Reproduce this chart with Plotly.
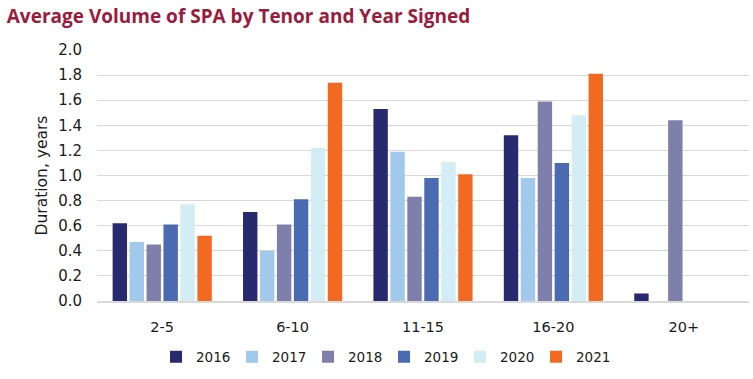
import plotly.graph_objects as go

categories = ["2-5", "6-10", "11-15", "16-20", "20+"]
years = ["2016", "2017", "2018", "2019", "2020", "2021"]
values = {
    "2016": [0.62, 0.71, 1.53, 1.32, 0.06],
    "2017": [0.47, 0.40, 1.19, 0.98, None],
    "2018": [0.45, 0.61, 0.83, 1.59, 1.44],
    "2019": [0.61, 0.81, 0.98, 1.10, None],
    "2020": [0.77, 1.22, 1.11, 1.48, None],
    "2021": [0.52, 1.74, 1.01, 1.81, None],
}
colors = ["#272A6F", "#A0C9EC", "#7E7FAB", "#4A6AB2", "#D2EEF4", "#F26A21"]
y_ticks = [0.0, 0.2, 0.4, 0.6, 0.8, 1.0, 1.2, 1.4, 1.6, 1.8, 2.0]

fig = go.Figure()
for yr, c in zip(years, colors):
    fig.add_trace(go.Bar(name=yr, x=categories, y=values[yr], marker_color=c,
                         marker_line_width=0))

font = "'DejaVu Sans', sans-serif"
fig.update_layout(
    width=753, height=379,
    margin=dict(l=97, r=4, t=50, b=78),
    paper_bgcolor="white", plot_bgcolor="white",
    barmode="group", bargap=0.22, bargroupgap=0.15,
    font=dict(family=font, size=15, color="#1a1a1a"),
    title=dict(text="<b>Average Volume of SPA by Tenor and Year Signed</b>",
               x=0.009, xanchor="left", y=0.958, yanchor="middle",
               font=dict(family="'Open Sans', sans-serif", size=19, color="#9A1B3B")),
    legend=dict(orientation="h", xref="container", x=0.51, xanchor="center",
                yref="container", y=0.058, yanchor="middle", font=dict(size=13.5),
                itemwidth=30, entrywidth=31, traceorder="normal"),
    showlegend=True,
)
fig.update_yaxes(range=[0, 2.0], tickvals=y_ticks, ticktext=[f"{v:.1f}" for v in y_ticks],
                 showgrid=True, gridcolor="#D9D9D9", gridwidth=1.2, zeroline=False,
                 ticks="", ticklen=0, automargin=False, ticklabelstandoff=14,
                 title=dict(text="Duration, years", font=dict(size=15.5), standoff=6),
                 showline=False, tickfont=dict(size=15))
fig.update_xaxes(showline=True, linecolor="#D9D9D9", linewidth=2, ticks="",
                 automargin=False, ticklabelstandoff=12, tickfont=dict(size=14.5))
fig.write_html("out.html", config={"displayModeBar": False},
               post_script="document.body.style.margin='0';document.body.style.padding='0';")
